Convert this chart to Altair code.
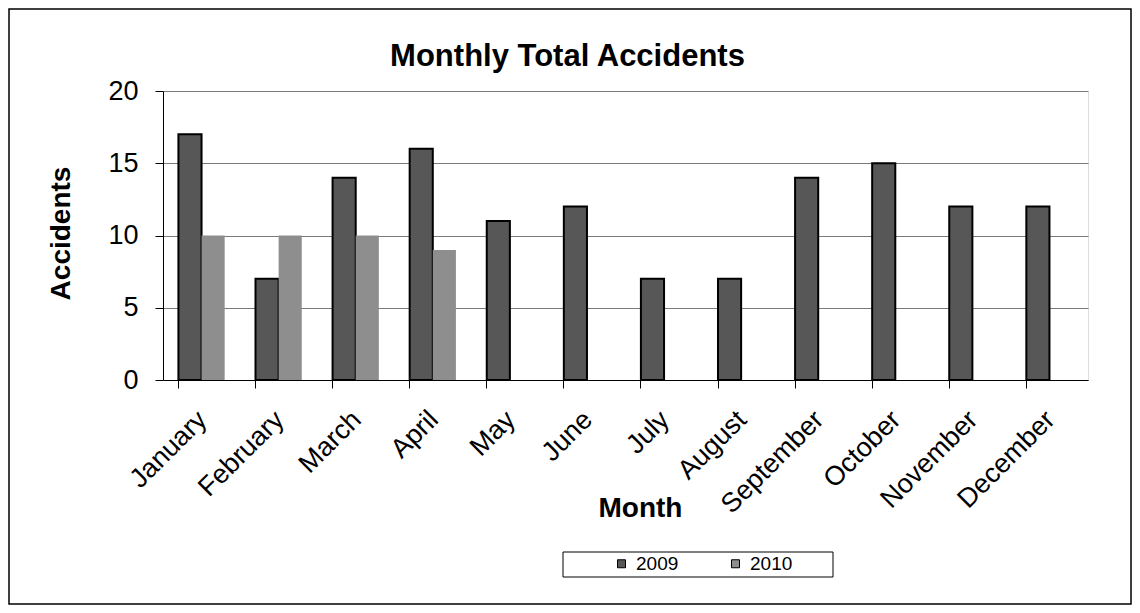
import altair as alt
import pandas as pd

months = ["January", "February", "March", "April", "May", "June", "July",
          "August", "September", "October", "November", "December"]
acc_2009 = [17, 7, 14, 16, 11, 12, 7, 7, 14, 15, 12, 12]
acc_2010 = [10, 10, 10, 9, None, None, None, None, None, None, None, None]

rows = []
for m, a, b in zip(months, acc_2009, acc_2010):
    rows.append({"Month": m, "Year": "2009", "Accidents": a})
    if b is not None:
        rows.append({"Month": m, "Year": "2010", "Accidents": b})
df = pd.DataFrame(rows)

FONT = "Liberation Sans"
W, H = 925, 289

frame = alt.Chart(pd.DataFrame({"k": [0]})).mark_rect(
    fill=None, stroke="black", strokeWidth=1.5
).encode(x=alt.value(-154), x2=alt.value(968), y=alt.value(-82), y2=alt.value(513))

legend_box = alt.Chart(pd.DataFrame({"k": [0]})).mark_rect(
    fill="white", stroke="black", strokeWidth=1
).encode(x=alt.value(400), x2=alt.value(670), y=alt.value(461), y2=alt.value(486))

bars = alt.Chart(df).mark_bar().encode(
    x=alt.X("Month:N", sort=months,
            scale=alt.Scale(paddingInner=0.4, paddingOuter=0.2),
            axis=alt.Axis(title="Month", labelAngle=-45, labelAlign="right",
                          labelBaseline="top", labelFontSize=27, labelPadding=18,
                          labelOffset=-8, labelColor="black", titleFontSize=28,
                          titleFontWeight="bold", titleColor="black",
                          titleX=477, titleY=128, titleBaseline="middle",
                          titleAlign="center",
                          bandPosition=0, tickColor="black", tickSize=8,
                          domainColor="black", grid=False, labelFont=FONT,
                          titleFont=FONT)),
    xOffset=alt.XOffset("Year:N", scale=alt.Scale(paddingInner=0, domain=["2009", "2010"])),
    y=alt.Y("Accidents:Q", scale=alt.Scale(domain=[0, 20]),
            axis=alt.Axis(title="Accidents", values=[0, 5, 10, 15, 20],
                          labelFontSize=27, labelColor="black", labelPadding=17,
                          titleFontSize=28, titleFontWeight="bold", titleColor="black",
                          titleX=-102, titleY=142, titleBaseline="middle",
                          titleAlign="center", titleAngle=-90,
                          tickColor="black", tickSize=8,
                          domainColor="black", gridColor="#7a7a7a", gridWidth=1,
                          labelFont=FONT, titleFont=FONT)),
    color=alt.Color("Year:N", scale=alt.Scale(domain=["2009", "2010"],
                                              range=["#575757", "#8e8e8e"]),
                    legend=alt.Legend(orient="none", legendX=449, legendY=463,
                                      direction="horizontal", title=None,
                                      symbolType="square", symbolSize=64,
                                      symbolStrokeColor="black", symbolStrokeWidth=1,
                                      labelFontSize=19, labelFont=FONT,
                                      labelColor="black", columnPadding=47,
                                      labelOffset=5)),
    stroke=alt.condition(alt.datum.Year == "2009", alt.value("black"), alt.value(None)),
    strokeWidth=alt.value(2),
)

chart = alt.layer(frame, legend_box, bars).properties(
    width=W, height=H,
    autosize=alt.AutoSizeParams(type="none"),
    padding={"left": 155, "top": 83, "right": 44, "bottom": 225},
    title=alt.TitleParams("Monthly Total Accidents", anchor="middle", frame="group",
                          dx=-58, dy=115, fontSize=31, fontWeight="bold", font=FONT,
                          color="black", offset=26, baseline="alphabetic"),
).configure_view(fill="#c6c6c6", stroke="#888888").configure(background="white")

chart.save("out.html", embed_options={"renderer": "svg", "actions": False})
